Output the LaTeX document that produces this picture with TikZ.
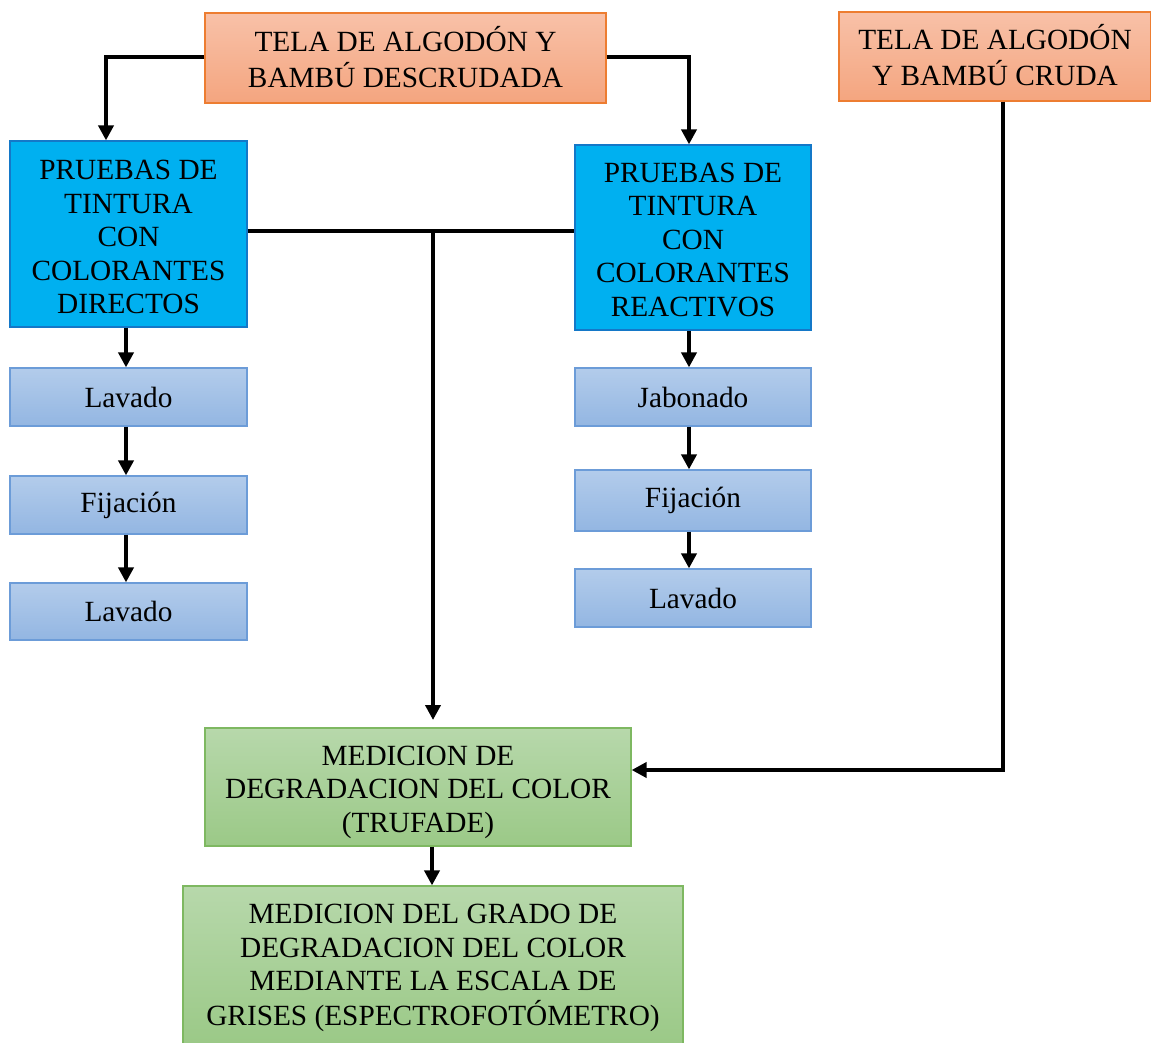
\documentclass[tikz,border=0pt]{standalone}
\usepackage{fontspec}
\setmainfont{Liberation Serif}
\usetikzlibrary{arrows.meta}
\definecolor{salmonT}{HTML}{F8C1A8}
\definecolor{salmonB}{HTML}{F4A57F}
\definecolor{salmonD}{HTML}{ED7D31}
\definecolor{cyanF}{HTML}{00B0F0}
\definecolor{cyanD}{HTML}{1478C8}
\definecolor{lbT}{HTML}{B3CCEB}
\definecolor{lbB}{HTML}{93B6E2}
\definecolor{lbD}{HTML}{6C9CD8}
\definecolor{grT}{HTML}{B7D8AB}
\definecolor{grB}{HTML}{9BC987}
\definecolor{grD}{HTML}{7EB861}
\newcommand\shiftedtext[2]{\raisebox{#1}[\height][\depth]{\begin{tabular}{@{}c@{}}#2\end{tabular}}}
\tikzset{
  box/.style={rectangle, inner sep=0pt, line width=1.2pt,
    font=\fontsize{29.3}{33.6}\selectfont},
  srcbox/.style={box, draw=salmonD, top color=salmonT, bottom color=salmonB},
  dyebox/.style={box, draw=cyanD, fill=cyanF},
  stepbox/.style={box, draw=lbD, top color=lbT, bottom color=lbB},
  measbox/.style={box, draw=grD, top color=grT, bottom color=grB},
  conn/.style={line width=3.8pt, -{Triangle[length=15pt,width=15pt]}},
  plain/.style={line width=3.8pt}
}
\begin{document}
\begin{tikzpicture}[x=1pt,y=-1pt]
\useasboundingbox (0,0) rectangle (1151,1043);
% sources
\node[srcbox, minimum width=401pt, minimum height=90pt] (desc) at (405.5,58) {\shiftedtext{-4pt}{TELA DE ALGODÓN Y\\BAMBÚ DESCRUDADA}};
\node[srcbox, minimum width=312pt, minimum height=89pt] (cruda) at (995,56.5) {\shiftedtext{-3.5pt}{TELA DE ALGODÓN\\Y BAMBÚ CRUDA}};
% dye boxes
\node[dyebox, minimum width=237pt, minimum height=186pt] (dir) at (128.5,234) {\shiftedtext{-6pt}{PRUEBAS DE\\TINTURA\\CON\\COLORANTES\\DIRECTOS}};
\node[dyebox, minimum width=236pt, minimum height=185pt] (rea) at (693,237.5) {\shiftedtext{-5pt}{PRUEBAS DE\\TINTURA\\CON\\COLORANTES\\REACTIVOS}};
% left steps
\node[stepbox, minimum width=237pt, minimum height=58pt] (l1) at (128.5,397) {Lavado};
\node[stepbox, minimum width=237pt, minimum height=58pt] (l2) at (128.5,505) {Fijación};
\node[stepbox, minimum width=237pt, minimum height=57pt] (l3) at (128.5,611.5) {Lavado};
% right steps
\node[stepbox, minimum width=236pt, minimum height=58pt] (r1) at (693,397) {Jabonado};
\node[stepbox, minimum width=236pt, minimum height=61pt] (r2) at (693,500.5) {Fijación};
\node[stepbox, minimum width=236pt, minimum height=58pt] (r3) at (693,598) {Lavado};
% measurement
\node[measbox, minimum width=426pt, minimum height=118pt] (m1) at (418,787) {\shiftedtext{-5pt}{MEDICION DE\\DEGRADACION DEL COLOR\\(TRUFADE)}};
\node[measbox, minimum width=500pt, minimum height=158pt] (m2) at (433,965) {\shiftedtext{-3pt}{MEDICION DEL GRADO DE\\DEGRADACION DEL COLOR\\MEDIANTE LA ESCALA DE\\GRISES (ESPECTROFOTÓMETRO)}};
% connectors
\draw[conn] (desc.west |- 0,57) -| (106,0 |- dir.north);
\draw[conn] (desc.east |- 0,57) -| (689,0 |- rea.north);
\draw[plain] (dir.east |- 0,231) -- (rea.west |- 0,231);
\coordinate (j) at (433,231);
\draw[conn] (j) -- (433,720);
\draw[conn] (1003,0 |- cruda.south) |- (m1.east |- 0,770);
\draw[conn] (126,0 |- dir.south) -- (l1.north -| 126,0);
\draw[conn] (126,0 |- l1.south) -- (l2.north -| 126,0);
\draw[conn] (126,0 |- l2.south) -- (l3.north -| 126,0);
\draw[conn] (689,0 |- rea.south) -- (r1.north -| 689,0);
\draw[conn] (689,0 |- r1.south) -- (r2.north -| 689,0);
\draw[conn] (689,0 |- r2.south) -- (r3.north -| 689,0);
\draw[conn] (432,0 |- m1.south) -- (m2.north -| 432,0);
\end{tikzpicture}
\end{document}
